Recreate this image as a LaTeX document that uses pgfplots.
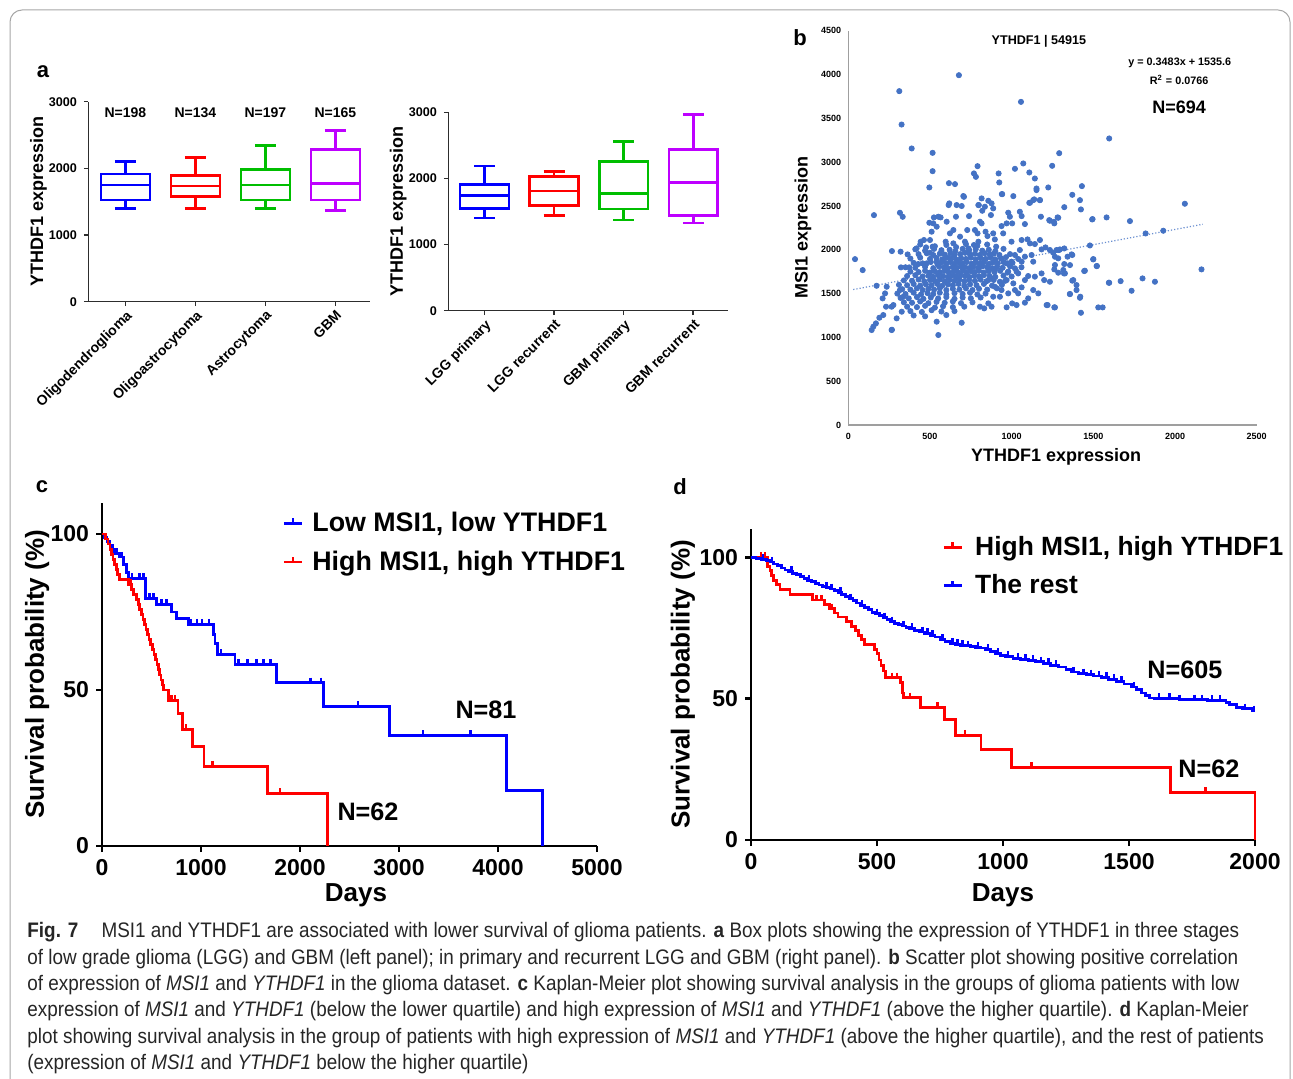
\documentclass[border=0pt]{standalone}
\usepackage{fontspec}
\setmainfont{Liberation Sans}
\newfontfamily\capfont[FakeStretch=0.9]{Liberation Sans}
\usepackage{pgfplots}
\pgfplotsset{compat=1.18}
\usepgfplotslibrary{statistics}

\definecolor{bxblue}{RGB}{0,0,255}
\definecolor{bxred}{RGB}{255,0,0}
\definecolor{bxgreen}{RGB}{0,190,0}
\definecolor{bxpurple}{RGB}{190,0,255}
\definecolor{dotblue}{RGB}{68,114,196}
\definecolor{axgray}{RGB}{45,45,45}

\pgfplotsset{
  boxax/.style={
    scale only axis, clip=false,
    axis x line*=bottom, axis y line*=left,
    axis line style={line width=0.75pt, color=axgray},
    ymin=0, ymax=3000, ytick={0,1000,2000,3000},
    xtick={0,1,2,3}, xmin=-0.53, xmax=3.5,
    tick align=outside, major tick length=2.2pt,
    tick style={line width=0.75pt, color=axgray},
    /pgf/number format/assume math mode=true,
    /pgf/number format/1000 sep={},
    yticklabel style={font=\bfseries\fontsize{6.3}{7}\selectfont},
    xticklabel style={font=\bfseries\fontsize{7}{8}\selectfont, rotate=45, anchor=north east, inner sep=1pt},
    ylabel={YTHDF1 expression},
    ylabel style={font=\bfseries\fontsize{9}{10}\selectfont, at={(axis description cs:-0.177,0.5)}, anchor=center},
    boxplot/draw direction=y,
  },
  bx/.style={line width=1.3pt, solid, mark=none},
  kmax/.style={
    scale only axis, clip=false,
    axis x line*=bottom, axis y line*=left,
    axis line style={line width=1.4pt, black},
    tick style={line width=1.4pt, black},
    tick align=outside, major tick length=3pt,
    ymin=0, ymax=110, ytick={0,50,100},
    /pgf/number format/assume math mode=true,
    /pgf/number format/1000 sep={},
    ticklabel style={font=\bfseries\fontsize{11.5}{12}\selectfont},
    label style={font=\bfseries\fontsize{13}{15}\selectfont},
    ylabel={Survival probability (\%)},
    xlabel={Days},
    legend cell align=left,
    legend image code/.code={%
      \draw[#1, line width=1.4pt] (0pt,0pt) -- (9pt,0pt);
      \draw[#1, line width=1.4pt] (4.5pt,0pt) -- (4.5pt,2.6pt);},
  },
  km/.style={const plot, line width=1.4pt, mark=none},
  cens/.style={only marks, mark=|, mark size=1.3pt, forget plot,
    mark options={yshift=1.3pt, line width=1.2pt, solid}},
}

\begin{document}
\begin{tikzpicture}
\useasboundingbox (0,0) rectangle (646.5pt,-539.5pt);
\draw[gray!70, line width=0.5pt, rounded corners=6pt] (5pt,-539.5pt) -- (5pt,-5pt) -- (645pt,-5pt) -- (645pt,-539.5pt);

% panel labels
\node[font=\bfseries\fontsize{11}{12}\selectfont] at (21.5pt,-36pt) {a};
\node[font=\bfseries\fontsize{11}{12}\selectfont] at (400pt,-19pt) {b};
\node[font=\bfseries\fontsize{11}{12}\selectfont] at (21pt,-243.5pt) {c};
\node[font=\bfseries\fontsize{11}{12}\selectfont] at (340pt,-243.5pt) {d};

% ---------- a, left ----------
\begin{axis}[boxax, at={(44.15pt,-150.85pt)}, anchor=south west,
  width=141pt, height=100pt,
  xticklabels={Oligodendroglioma,Oligoastrocytoma,Astrocytoma,GBM}]
\addplot[bx, bxblue, boxplot prepared={draw position=0, median=1750, upper quartile=1915, lower quartile=1525, upper whisker=2100, lower whisker=1400, box extend=0.7, whisker extend=0.3}] coordinates {};
\addplot[bx, bxred, boxplot prepared={draw position=1, median=1735, upper quartile=1890, lower quartile=1575, upper whisker=2165, lower whisker=1400, box extend=0.7, whisker extend=0.3}] coordinates {};
\addplot[bx, bxgreen, boxplot prepared={draw position=2, median=1750, upper quartile=1985, lower quartile=1525, upper whisker=2340, lower whisker=1400, box extend=0.7, whisker extend=0.3}] coordinates {};
\addplot[bx, bxpurple, boxplot prepared={draw position=3, median=1775, upper quartile=2280, lower quartile=1525, upper whisker=2565, lower whisker=1365, box extend=0.7, whisker extend=0.3}] coordinates {};
\node[font=\bfseries\fontsize{7}{8}\selectfont] at (axis cs:0,2830) {N=198};
\node[font=\bfseries\fontsize{7}{8}\selectfont] at (axis cs:1,2830) {N=134};
\node[font=\bfseries\fontsize{7}{8}\selectfont] at (axis cs:2,2830) {N=197};
\node[font=\bfseries\fontsize{7}{8}\selectfont] at (axis cs:3,2830) {N=165};
\end{axis}

% ---------- a, right ----------
\begin{axis}[boxax, at={(224.15pt,-155.35pt)}, anchor=south west,
  width=139.85pt, height=99.2pt, xmin=-0.52,
  ylabel style={at={(axis description cs:-0.179,0.5)}},
  xticklabels={LGG primary,LGG recurrent,GBM primary,GBM recurrent}]
\addplot[bx, bxblue, boxplot prepared={draw position=0, median=1740, upper quartile=1912, lower quartile=1549, upper whisker=2189, lower whisker=1402, box extend=0.7, whisker extend=0.3}] coordinates {};
\addplot[bx, bxred, boxplot prepared={draw position=1, median=1811, upper quartile=2027, lower quartile=1589, upper whisker=2109, lower whisker=1443, box extend=0.7, whisker extend=0.3}] coordinates {};
\addplot[bx, bxgreen, boxplot prepared={draw position=2, median=1776, upper quartile=2260, lower quartile=1539, upper whisker=2557, lower whisker=1372, box extend=0.7, whisker extend=0.3}] coordinates {};
\addplot[bx, bxpurple, boxplot prepared={draw position=3, median=1937, upper quartile=2436, lower quartile=1437, upper whisker=2965, lower whisker=1327, box extend=0.7, whisker extend=0.3}] coordinates {};
\end{axis}

% ---------- b ----------
\begin{axis}[at={(424.15pt,-212.5pt)}, anchor=south west, scale only axis, clip=false,
  width=204.2pt, height=197.15pt,
  xmin=0, xmax=2500, ymin=0, ymax=4500,
  xtick={0,500,...,2500}, ytick={0,500,...,4500},
  axis x line*=bottom, axis y line*=left,
  axis line style={color=gray!75, line width=0.6pt},
  major tick length=0pt,
  /pgf/number format/assume math mode=true,
  /pgf/number format/1000 sep={},
  ticklabel style={font=\bfseries\fontsize{4.5}{5}\selectfont},
  xticklabel style={yshift=-0.5pt},
  xlabel={YTHDF1 expression}, ylabel={MSI1 expression},
  label style={font=\bfseries\fontsize{9}{10}\selectfont},
  xlabel style={at={(axis description cs:0.509,-0.081)}, anchor=center},
  ylabel style={at={(axis description cs:-0.111,0.5)}, anchor=center}]
\addplot[only marks, mark=*, mark size=1.3pt, color=dotblue, mark options={draw=none, fill=dotblue}] coordinates {
(41,1893)(88,1768)(157,2395)(173,1589)(143,1084)(153,1122)(169,1160)(190,1224)(214,1255)(231,1350)
(267,1087)(267,1985)(312,3810)(326,3429)(388,3156)(316,2422)(333,2376)(363,1947)(516,3106)(516,2897)
(496,2711)(677,3992)(1057,3688)(1597,3270)(1291,3102)(1020,2924)(1071,2985)(1248,2958)(1108,2882)(920,2871)
(924,2768)(791,2954)(769,2871)(781,2832)(616,2760)(653,2749)(708,2604)(940,2635)(1010,2612)(1142,2813)
(1152,2699)(1224,2711)(1430,2726)(1371,2627)(1418,2566)(1424,2460)(1132,2566)(1108,2536)(1173,2566)(1322,2486)
(1285,2365)(1259,2319)(1230,2338)(1495,2350)(1581,2369)(1724,2327)(2060,2525)(1928,2217)(1820,2186)(1479,2049)
(1500,1893)(1522,1814)(1444,1757)(1597,1623)(1667,1642)(1734,1532)(1801,1673)(1877,1635)(2162,1776)(1424,1281)
(1530,1342)(1557,1342)(1357,1494)(1418,1452)(1397,1597)(1377,1654)(1265,1342)(1214,1369)(1322,2015)(1367,1947)
(1357,1825)(1320,1730)(1289,1996)(1265,1920)(551,1027)(694,1167)(541,1179)(265,1350)
(265,1084)(296,1217)(327,1293)(337,1464)(316,1540)(276,1369)(210,1445)(225,1502)(235,1578)(320,1978)
(322,1799)(373,1799)(418,2016)(443,2092)(463,2111)(500,2111)(476,2027)(516,2035)(500,1966)(510,2206)
(541,2263)(520,2301)(496,2308)(551,2377)(524,2369)(565,2369)(614,2510)(618,2529)(663,2510)(694,2499)
(704,2613)(739,2384)(728,2225)(775,2225)(796,2510)(659,2377)(602,2320)(643,2225)(684,2149)(622,2187)
(596,2092)(643,2073)(714,2092)(735,2016)(769,2054)(796,2092)(428,1837)(480,1845)(541,1864)(582,1883)
(942,2635)(816,2586)(857,2559)(877,2529)(799,2510)(836,2491)(887,2472)(820,2445)(873,2396)(1152,2681)
(1112,2536)(1138,2575)(1173,2567)(979,2423)(989,2377)(1050,2434)(1061,2384)(969,2301)(1003,2301)(1081,2293)
(1179,2377)(1234,2331)(1261,2301)(1281,2369)(1493,2346)(806,2320)(816,2301)(938,2270)(840,2206)(852,2156)
(887,2187)(948,2187)(897,2118)(791,2187)(999,2092)(1061,2111)(1097,2118)(1112,2073)(1142,2065)(1173,2111)
(1183,2004)(1207,2027)(1234,1997)(1254,1966)(1275,1997)(1295,2004)(1122,1940)(1050,1997)(1081,1921)(1020,1940)
(999,1864)(969,1845)(1061,1864)(1132,1864)(1285,1902)(1342,1921)(1371,1940)(1265,1826)(1322,1837)(1261,1776)
(1285,1738)(1326,1730)(1316,1769)(1448,1761)(1499,1890)(1520,1814)(1371,1647)(1397,1540)(1356,1495)(1420,1464)
(1220,1369)(1261,1343)(1595,1624)(1199,1654)(1234,1635)(1163,1502)(1132,1540)(1101,1445)(1081,1396)(1040,1502)
(1061,1571)(1010,1616)(1020,1540)(979,1502)(1003,1388)(1030,1369)(969,1343)(928,1464)(938,1540)(897,1578)
(887,1464)(857,1388)(832,1331)(806,1350)(877,1350)(1101,1700)(1142,1693)(1183,1730)(1081,1654)(969,1654)
(928,1635)(887,1673)(857,1654)(1040,1730)(1020,1788)(979,1750)(897,1769)
(440,2060)(530,2040)(600,2055)(660,2030)(720,2065)(790,2045)(850,2060)(905,2035)
(410,2005)(470,1990)(525,2010)(570,1995)(620,2000)(655,1985)(700,2010)(740,1995)(780,2005)(820,1990)(860,2000)(900,1985)(950,2010)
(430,1950)(480,1960)(520,1940)(560,1955)(590,1945)(625,1960)(650,1940)(685,1950)(715,1965)(745,1945)(775,1955)(805,1940)(835,1960)(865,1945)(890,1955)(925,1940)(990,1950)
(380,1900)(440,1910)(500,1895)(540,1905)(575,1890)(605,1910)(630,1900)(660,1890)(690,1905)(720,1895)(750,1910)(780,1890)(810,1905)(840,1895)(870,1910)(900,1890)(935,1900)(965,1915)(1040,1895)
(400,1850)(455,1845)(505,1860)(545,1840)(570,1855)(600,1845)(625,1860)(650,1840)(675,1855)(700,1845)(725,1860)(755,1840)(780,1855)(805,1845)(830,1860)(860,1840)(885,1855)(915,1845)(950,1860)(1005,1850)
(350,1800)(410,1795)(470,1805)(520,1790)(555,1810)(585,1800)(610,1790)(640,1805)(665,1795)(690,1810)(715,1800)(740,1790)(765,1805)(795,1795)(820,1810)(850,1800)(880,1790)(910,1805)(945,1795)(990,1810)(1060,1800)
(380,1750)(430,1745)(470,1760)(500,1740)(530,1755)(560,1745)(590,1760)(615,1740)(645,1755)(670,1745)(700,1760)(725,1740)(750,1755)(775,1745)(800,1760)(830,1740)(860,1755)(895,1745)(930,1760)(975,1740)(1030,1750)
(360,1700)(410,1710)(455,1695)(490,1705)(520,1690)(550,1710)(580,1700)(610,1690)(635,1705)(660,1695)(690,1710)(715,1700)(740,1690)(770,1705)(800,1695)(830,1710)(865,1700)(900,1690)(950,1705)(1000,1695)
(340,1650)(390,1645)(430,1660)(465,1640)(500,1655)(530,1645)(560,1660)(590,1640)(620,1655)(650,1645)(680,1660)(710,1640)(740,1655)(775,1645)(810,1660)(845,1640)(890,1655)(960,1645)
(310,1600)(360,1595)(400,1610)(440,1590)(475,1605)(510,1595)(545,1610)(575,1590)(610,1605)(640,1595)(675,1610)(710,1590)(745,1605)(785,1595)(830,1610)(880,1590)(940,1600)
(330,1550)(380,1545)(420,1560)(455,1540)(490,1555)(525,1545)(560,1560)(600,1540)(640,1555)(680,1545)(720,1560)(760,1540)(800,1555)(850,1545)(910,1560)
(300,1500)(350,1495)(400,1510)(445,1490)(485,1505)(520,1495)(560,1510)(600,1490)(650,1505)(700,1495)(745,1510)(790,1490)(840,1500)
(320,1450)(370,1445)(420,1460)(460,1440)(505,1455)(550,1445)(600,1460)(650,1440)(700,1455)(750,1445)(810,1455)
(340,1400)(390,1395)(440,1410)(490,1390)(540,1405)(590,1395)(640,1410)(690,1390)(760,1400)
(360,1350)(420,1345)(470,1360)(530,1340)(580,1355)(640,1345)(710,1350)
(380,1300)(450,1290)(510,1310)(570,1295)(650,1300)
(400,1250)(470,1240)(600,1255)
};
\addplot[dotblue!80, densely dotted, line width=0.6pt] coordinates {(30,1546) (2170,2291)};
\node[font=\bfseries\fontsize{6.3}{7}\selectfont] at (axis cs:1167,4380) {YTHDF1 | 54915};
\node[font=\bfseries\fontsize{5.4}{6}\selectfont] at (axis cs:2029,4129) {y = 0.3483x + 1535.6};
\node[font=\bfseries\fontsize{5.4}{6}\selectfont] at (axis cs:2025,3935) {R\textsuperscript{2} = 0.0766};
\node[font=\bfseries\fontsize{9}{10}\selectfont] at (axis cs:2025,3627) {N=694};
\end{axis}

% ---------- c ----------
\begin{axis}[kmax, at={(51pt,-423pt)}, anchor=south west,
  width=247.5pt, height=171.6pt,
  xmin=0, xmax=5000, xtick={0,1000,...,5000},
  xlabel style={at={(axis description cs:0.513,-0.143)}, anchor=center},
  ylabel style={at={(axis description cs:-0.131,0.5)}, anchor=center},
  legend style={at={(axis description cs:0.364,0.985)}, anchor=north west,
    draw=none, fill=none, inner sep=0pt, row sep=4pt,
    /tikz/every odd column/.append style={column sep=2.5pt},
    font=\bfseries\fontsize{13.4}{15}\selectfont}]
\addplot[km, bxblue] coordinates {
(0,100)(25,98.8)(50,97.5)(80,96.3)(110,95.1)(130,93.8)(180,92.6)(215,90.1)(250,87.7)(266,85.7)
(441,79.3)(552,77.5)(704,75.0)(754,72.9)(872,71.1)(1124,67.8)(1141,65.0)(1168,61.4)(1343,58.2)(1764,52.3)
(2235,44.8)(2905,35.4)(4082,17.8)(4449,0)};
\addlegendentry{Low MSI1, low YTHDF1}
\addplot[km, bxred] coordinates {
(0,100)(35,98.4)(60,96.8)(80,95.1)(95,93.5)(112,91.9)(130,90.3)(146,88.7)(160,87.1)(175,85.5)
(265,83.9)(300,82.3)(320,80.6)(345,79.0)(365,77.4)(380,75.8)(400,74.2)(415,72.6)(430,71.0)(445,69.4)
(460,67.7)(475,66.1)(490,64.5)(510,62.9)(525,61.3)(540,59.7)(555,58.1)(570,56.5)(580,54.8)(595,53.2)
(610,51.6)(625,50.0)(674,46.6)(767,42.5)(810,37.3)(913,31.9)(1030,25.6)(1668,16.9)(2278,0)};
\addlegendentry{High MSI1, high YTHDF1}
\addplot[cens, bxblue] coordinates {
(150,93.8)(200,92.6)(300,85.7)(380,85.7)(420,85.7)(480,79.3)(520,79.3)(600,77.5)(650,77.5)(900,71.1)
(960,71.1)(1010,71.1)(1080,71.1)(1200,61.4)(1380,58.2)(1470,58.2)(1560,58.2)(1630,58.2)(1700,58.2)(2107,52.3)
(2214,52.3)(2585,44.8)(3244,35.4)(3723,35.4)};
\addplot[cens, bxred] coordinates {(290,83.9)(700,46.6)(740,46.6)(850,37.3)(1117,25.6)(1800,16.9)};
\node[font=\bfseries\fontsize{12.6}{14}\selectfont] at (axis cs:3879,43.6) {N=81};
\node[font=\bfseries\fontsize{12.6}{14}\selectfont] at (axis cs:2687,10.9) {N=62};
\end{axis}

% ---------- d ----------
\begin{axis}[kmax, at={(375.5pt,-420pt)}, anchor=south west,
  width=252pt, height=155.5pt,
  xmin=0, xmax=2000, xtick={0,500,...,2000},
  xlabel style={at={(axis description cs:0.5,-0.177)}, anchor=center},
  ylabel style={at={(axis description cs:-0.135,0.5)}, anchor=center},
  legend style={at={(axis description cs:0.379,0.99)}, anchor=north west,
    draw=none, fill=none, inner sep=0pt, row sep=4pt,
    /tikz/every odd column/.append style={column sep=4pt},
    font=\bfseries\fontsize{13.2}{15}\selectfont}]
\addplot[km, bxred] coordinates {
(0,100)(66,96.8)(75,95.2)(82,93.5)(90,91.9)(100,90.3)(115,88.5)(155,86.7)(245,84.9)(292,83.2)
(310,81.8)(330,80.3)(345,78.9)(380,77.2)(400,75.6)(415,74.0)(425,72.4)(438,70.8)(450,69.1)(490,67.5)
(500,65.9)(508,63.7)(516,61.7)(525,59.8)(535,57.4)(594,55.6)(600,52.0)(605,50.3)(674,46.8)(767,42.6)
(810,37.1)(913,32.0)(1033,25.7)(1664,16.9)(2000,0)};
\addlegendentry{High MSI1, high YTHDF1}
\addplot[km, bxblue] coordinates {
(0,100)(20,99.7)(40,99.3)(60,98.9)(75,98.3)(90,97.6)(105,97.0)(120,96.2)(135,95.5)(150,94.9)
(165,94.4)(180,93.8)(195,93.1)(210,92.5)(225,91.9)(240,91.3)(255,90.7)(270,90.2)(285,89.7)(300,89.3)
(315,88.8)(330,88.3)(345,87.5)(360,86.7)(375,86.0)(390,85.3)(405,84.6)(420,83.8)(435,83.0)(450,82.1)
(465,81.4)(480,80.6)(495,80.0)(510,79.4)(525,78.6)(540,77.9)(555,77.2)(570,76.6)(585,76.1)(600,75.7)
(615,75.3)(630,74.8)(650,74.2)(670,73.6)(690,73.0)(710,72.4)(730,71.8)(750,70.9)(770,70.1)(790,69.5)
(810,69.1)(830,68.9)(850,68.7)(870,68.5)(890,68.2)(910,67.9)(930,67.5)(950,66.8)(970,66.0)(990,65.4)
(1010,64.9)(1040,64.3)(1070,63.9)(1100,63.5)(1130,63.0)(1160,62.5)(1190,61.8)(1220,61.2)(1250,60.2)(1270,59.4)
(1300,58.8)(1330,58.4)(1360,58.0)(1390,57.6)(1420,56.9)(1450,56.1)(1480,55.2)(1510,54.1)(1530,53.1)(1550,52.0)
(1565,51.0)(1580,50.2)(1600,50.0)(1700,49.6)(1810,49.3)(1885,48.6)(1900,47.8)(1925,47.0)(1950,46.4)(1990,45.7)
(2000,45.7)};
\addlegendentry{The rest}
\addplot[cens, bxred] coordinates {(40,100)(55,100)(260,84.9)(280,84.9)(320,81.8)(560,57.4)(580,57.4)(630,50.3)(740,46.8)(850,37.1)(1113,25.7)(1803,16.9)};
\addplot[cens, bxblue] coordinates {
(48,99.3)(83,98.3)(160,94.9)(230,91.9)(300,89.3)(320,88.8)(355,87.5)(395,85.3)(440,83.0)(500,80.0)
(530,78.6)(560,77.2)(605,75.7)(640,74.8)(680,73.6)(700,73.0)(720,72.4)(760,70.9)(800,69.5)(820,69.1)
(840,68.9)(860,68.7)(900,68.2)(940,67.5)(980,66.0)(1020,64.9)(1060,64.3)(1090,63.9)(1120,63.5)(1150,63.0)
(1180,62.5)(1210,61.8)(1280,59.4)(1320,58.8)(1350,58.4)(1380,58.0)(1410,57.6)(1440,56.9)(1470,56.1)(1520,54.1)
(1620,50.0)(1660,50.0)(1700,49.6)(1760,49.6)(1790,49.6)(1830,49.3)(1860,49.3)(1960,46.4)(1995,45.7)};
\node[font=\bfseries\fontsize{12.6}{14}\selectfont] at (axis cs:1722,60.1) {N=605};
\node[font=\bfseries\fontsize{12.6}{14}\selectfont] at (axis cs:1817,25.1) {N=62};
\end{axis}

% ---------- caption ----------
\node[anchor=north west, inner sep=0pt, align=left, text=black!85,
  font=\capfont\fontsize{10.5}{13.2}\selectfont] at (13.5pt,-461pt) {%
\textbf{Fig. 7}\hspace{1.1em}MSI1 and YTHDF1 are associated with lower survival of glioma patients. \textbf{a} Box plots showing the expression of YTHDF1 in three stages\\
of low grade glioma (LGG) and GBM (left panel); in primary and recurrent LGG and GBM (right panel). \textbf{b} Scatter plot showing positive correlation\\
of expression of \textit{MSI1} and \textit{YTHDF1} in the glioma dataset. \textbf{c} Kaplan-Meier plot showing survival analysis in the groups of glioma patients with low\\
expression of \textit{MSI1} and \textit{YTHDF1} (below the lower quartile) and high expression of \textit{MSI1} and \textit{YTHDF1} (above the higher quartile). \textbf{d} Kaplan-Meier\\
plot showing survival analysis in the group of patients with high expression of \textit{MSI1} and \textit{YTHDF1} (above the higher quartile), and the rest of patients\\
(expression of \textit{MSI1} and \textit{YTHDF1} below the higher quartile)};
\end{tikzpicture}
\end{document}
